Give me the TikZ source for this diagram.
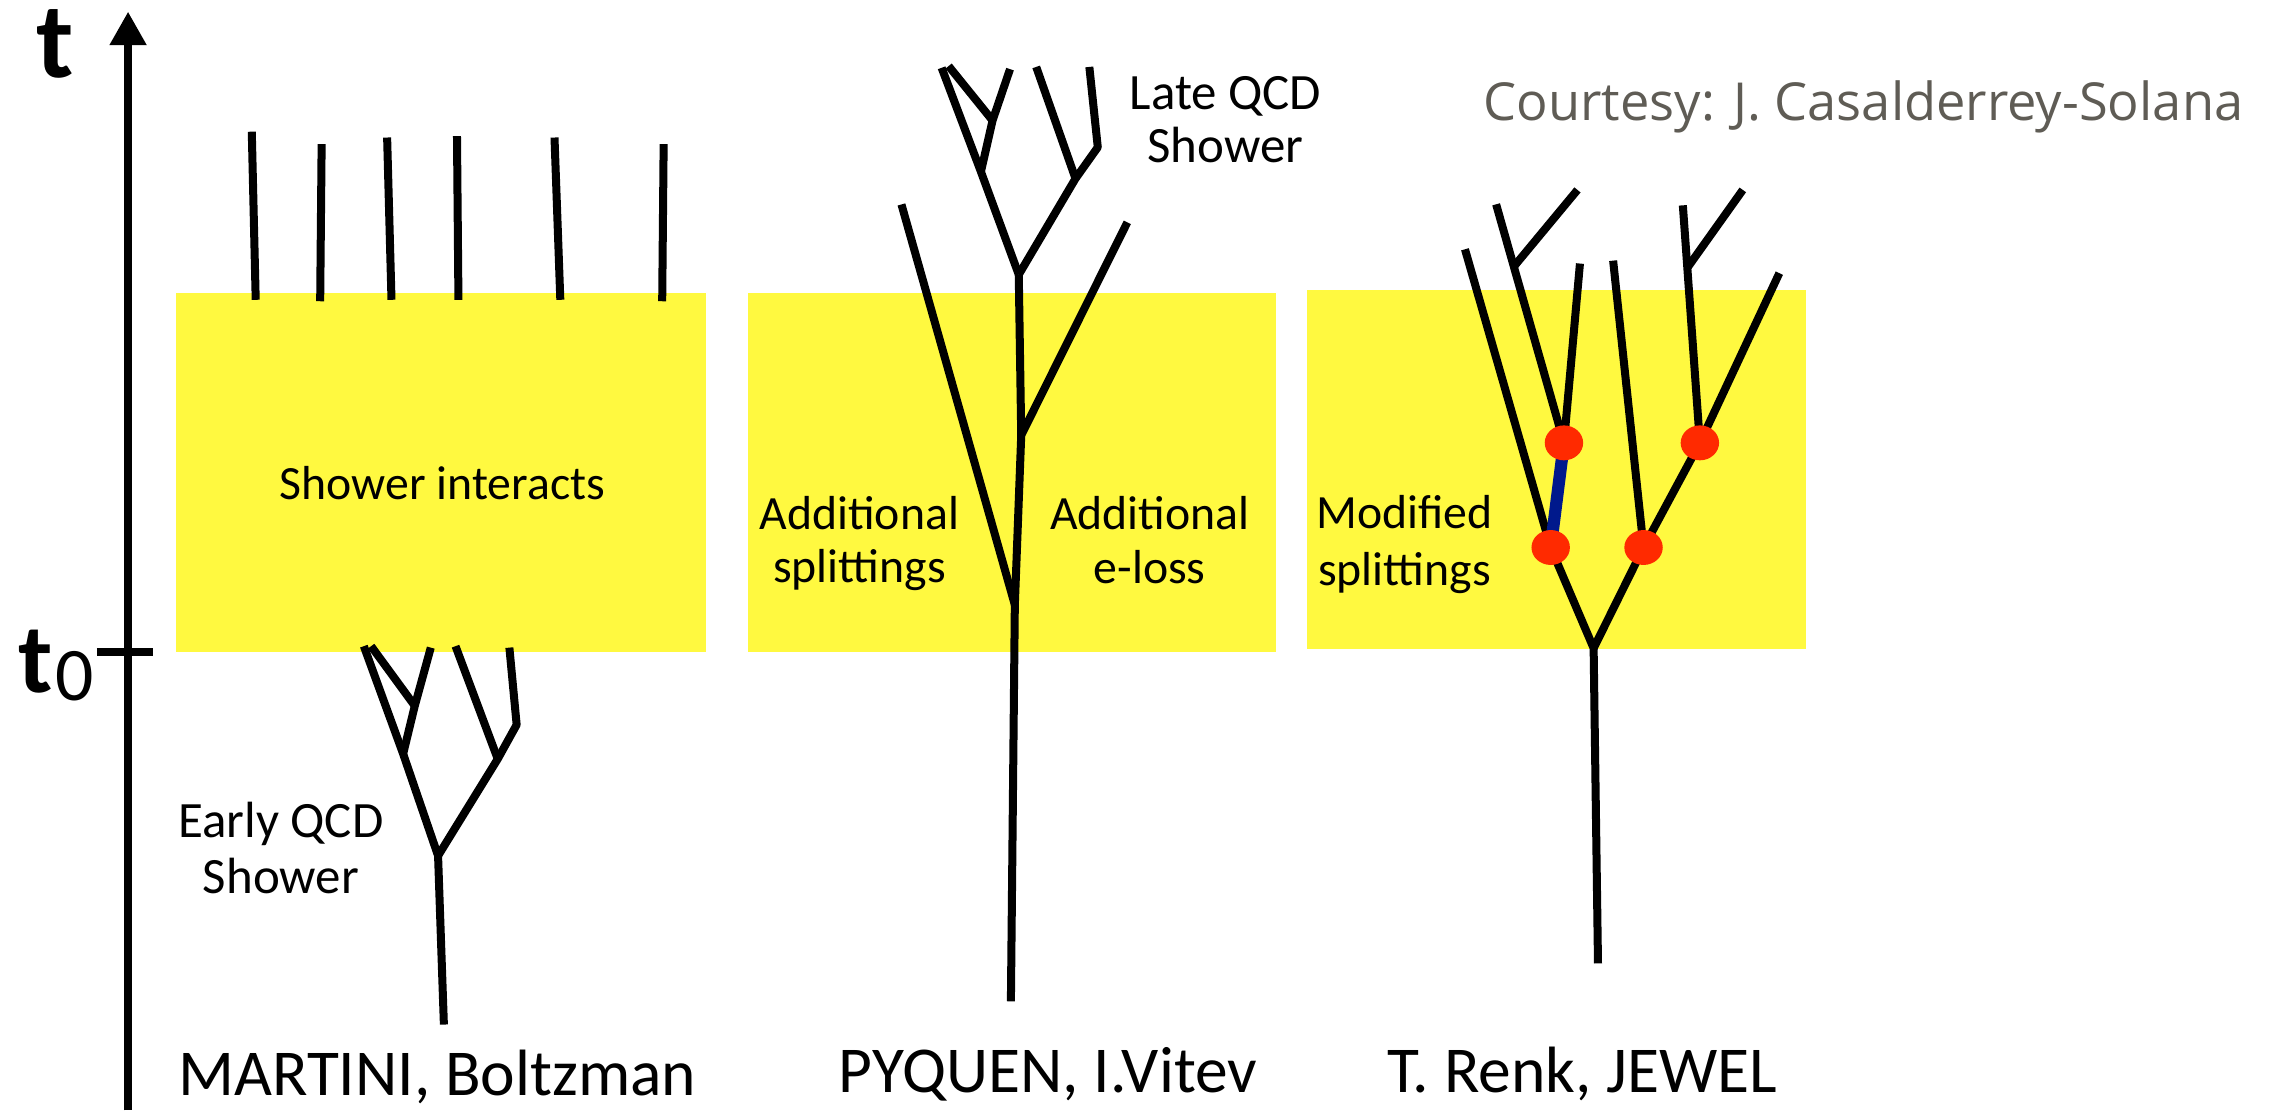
\documentclass[tikz,border=0pt]{standalone}
\usepackage{fontspec}
\setmainfont{Carlito}
\newfontfamily\courtfont{Open Sans}
\usetikzlibrary{arrows.meta,shapes.geometric}
\definecolor{hlyellow}{RGB}{255,249,64}
\definecolor{dotred}{RGB}{255,42,0}
\definecolor{segblue}{RGB}{0,25,140}
\definecolor{courtgrey}{RGB}{95,92,85}
\begin{document}
\begin{tikzpicture}[x=0.5pt,y=-0.5pt,
  branch/.style={line width=2.75pt, line join=round},
  zone/.style={fill=hlyellow, inner sep=0pt, outer sep=0pt, draw=none},
  boxlabel/.style={font=\fontsize{16.4}{19}\selectfont, inner sep=0pt, anchor=base},
  qcdlabel/.style={font=\fontsize{17.5}{20}\selectfont, inner sep=0pt, anchor=base},
  modellabel/.style={font=\fontsize{22.5}{26}\selectfont, inner sep=0pt, anchor=base west},
  reddot/.style={ellipse, fill=dotred, minimum width=13.2pt, minimum height=12pt, inner sep=0pt},
  bluelink/.style={line width=4.2pt, draw=segblue}]
\useasboundingbox (0,0) rectangle (1568,763);

% yellow zones
\node[zone, minimum width=182pt, minimum height=123.5pt] (box1) at (303,324.5) {};
\node[zone, minimum width=181.5pt, minimum height=123.5pt] (box2) at (695.5,324.5) {};
\node[zone, minimum width=171.5pt, minimum height=123.5pt] (box3) at (1069.5,322.5) {};

% time axis
\coordinate (axbot) at (88,763);
\coordinate (axtop) at (88,8);
\draw[line width=2.75pt, -{Triangle[length=11.5pt,width=12pt]}] (axbot) -- (axtop);
\coordinate (tickL) at (66.5,448);
\coordinate (tickR) at (105,448);
\draw[line width=2.75pt] (tickL) -- (tickR);
\node[anchor=base, font=\bfseries\fontsize{37}{37}\selectfont, inner sep=0pt] (tlab) at (38,53) {t};
\node[anchor=base west, inner sep=0pt] (t0lab) at (12,476) {{\bfseries\fontsize{34}{34}\selectfont t}\kern1pt{\fontsize{26}{26}\selectfont\raisebox{-2.5pt}{0}}};

% ---------- MARTINI ----------
\foreach \n/\xa/\ya/\xb/\yb in {1/173/90.5/175.7/206, 2/221/99/220/207, 3/266/94.5/269/206,
    4/314/93.5/315/206, 5/381/94.5/385/206, 6/456/99/455/207} {
  \coordinate (mt\n) at (\xa,\ya);
  \coordinate (mb\n) at (\xb,\yb);
  \draw[branch] (mt\n) -- (mb\n);
}
\coordinate (mT) at (305,704);
\coordinate (mF) at (301,588);
\coordinate (mA) at (277,518);
\coordinate (mL1) at (250,444);
\coordinate (mB) at (285,485);
\coordinate (mL2) at (255,444);
\coordinate (mL3) at (296,445);
\coordinate (mC) at (342,521.5);
\coordinate (mR1) at (313,444);
\coordinate (mD) at (355,498);
\coordinate (mR2) at (350,445);
\draw[branch] (mT) -- (mF) -- (mA) -- (mL1);
\draw[branch] (mA) -- (mB) -- (mL3);
\draw[branch] (mB) -- (mL2);
\draw[branch] (mF) -- (mC) -- (mR1);
\draw[branch] (mC) -- (mD) -- (mR2);

\node[boxlabel] (lshint) at (304,343) {Shower interacts};
\node[qcdlabel] (learly1) at (193,575.5) {Early QCD};
\node[qcdlabel] (learly2) at (193,614) {Shower};
\node[modellabel] (lmartini) at (122,753) {MARTINI, Boltzman};

% ---------- PYQUEN ----------
\coordinate (pT) at (694.6,688);
\coordinate (pJ0) at (697.3,415.6);
\coordinate (pJ2) at (701.7,299);
\coordinate (pJ1) at (700,188.7);
\coordinate (pLL) at (619.4,140.5);
\coordinate (pRR) at (774.6,152.8);
\coordinate (pJ3) at (674,118);
\coordinate (pJ4) at (739,122.7);
\coordinate (pTa) at (647,46.6);
\coordinate (pJ5) at (682,82.8);
\coordinate (pTb) at (694,47.5);
\coordinate (pTc) at (651.8,45.4);
\coordinate (pTd) at (712,46);
\coordinate (pJ6) at (754.3,101.2);
\coordinate (pTe) at (748.5,46);
\draw[branch] (pT) -- (pJ0) -- (pJ2) -- (pJ1);
\draw[branch] (pJ0) -- (pLL);
\draw[branch] (pJ2) -- (pRR);
\draw[branch] (pJ1) -- (pJ3) -- (pTa);
\draw[branch] (pJ3) -- (pJ5) -- (pTb);
\draw[branch] (pJ5) -- (pTc);
\draw[branch] (pJ1) -- (pJ4) -- (pTd);
\draw[branch] (pJ4) -- (pJ6) -- (pTe);

\node[qcdlabel] (llate1) at (842,75.2) {Late QCD};
\node[qcdlabel] (llate2) at (842,112) {Shower};
\node[boxlabel] (laddsp1) at (590.5,364) {Additional};
\node[boxlabel] (laddsp2) at (590.5,400.3) {splittings};
\node[boxlabel] (laddel1) at (790,364) {Additional};
\node[boxlabel] (laddel2) at (790,401) {e-loss};
\node[modellabel] (lpyquen) at (576,751) {PYQUEN, I.Vitev};

% ---------- JEWEL ----------
\coordinate (jT) at (1098,662);
\coordinate (jK0) at (1095,445.4);
\coordinate (jP1) at (1065.5,376.2);
\coordinate (jLL) at (1006.6,171.3);
\coordinate (jP2) at (1074.6,304.3);
\coordinate (jTa) at (1028,140.4);
\coordinate (jJa) at (1040.5,182.8);
\coordinate (jTb) at (1083.9,130.5);
\coordinate (jTc) at (1085.6,181.1);
\coordinate (jP3) at (1129.3,376.2);
\coordinate (jTd) at (1108.4,179.1);
\coordinate (jP4) at (1168,304.3);
\coordinate (jJb) at (1159.4,184);
\coordinate (jTe) at (1156.3,141.1);
\coordinate (jTf) at (1197.5,130.5);
\coordinate (jTg) at (1222.6,187.7);
\draw[branch] (jT) -- (jK0) -- (jP1) -- (jLL);
\draw[branch] (jP2) -- (jTa);
\draw[branch] (jJa) -- (jTb);
\draw[branch] (jP2) -- (jTc);
\draw[branch] (jK0) -- (jP3) -- (jTd);
\draw[branch] (jP3) -- (jP4) -- (jTe);
\draw[branch] (jJb) -- (jTf);
\draw[branch] (jP4) -- (jTg);
\draw[bluelink] (jP1) -- (jP2);
\node[reddot] (dot1) at (jP1) {};
\node[reddot] (dot2) at (jP2) {};
\node[reddot] (dot3) at (jP3) {};
\node[reddot] (dot4) at (jP4) {};

\node[boxlabel] (lmod1) at (965,363.2) {Modified};
\node[boxlabel] (lmod2) at (965,402) {splittings};
\node[modellabel] (ljewel) at (953,751) {T. Renk, JEWEL};

\node[anchor=base west, font=\courtfont\fontsize{18}{22}\selectfont, text=courtgrey, inner sep=0pt] (court) at (1019,83) {Courtesy: J. Casalderrey-Solana};
\end{tikzpicture}
\end{document}
